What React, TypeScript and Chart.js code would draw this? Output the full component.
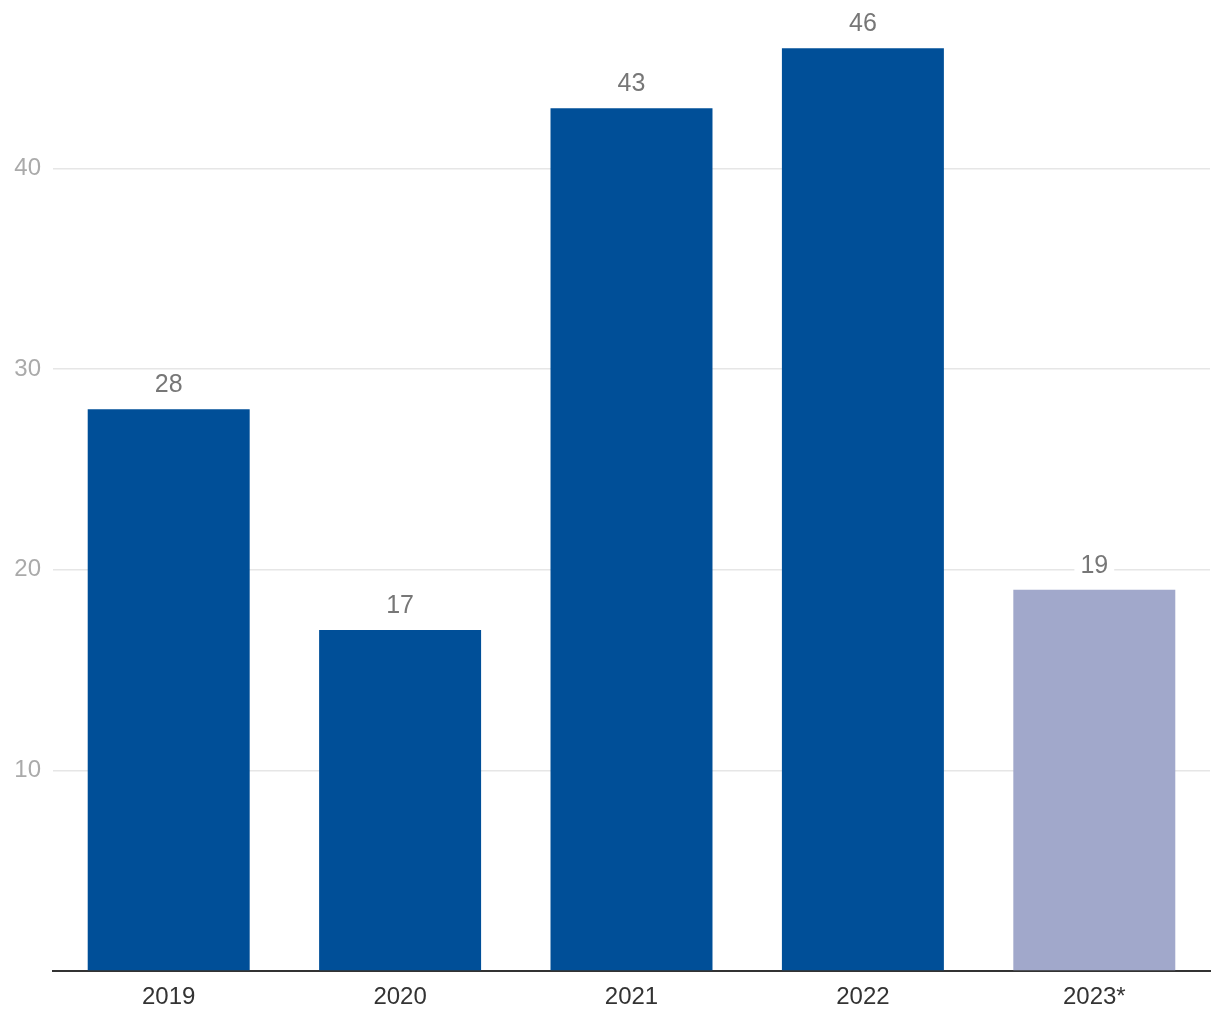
import React, { useEffect, useRef } from "react";
import { Chart, registerables } from "chart.js";

Chart.register(...registerables);

const categories = ["2019", "2020", "2021", "2022", "2023*"];
const values = [28, 17, 43, 46, 19];
const barColors = ["#004F98", "#004F98", "#004F98", "#004F98", "#A1A8CB"];
const yTicks = [10, 20, 30, 40];

const FONT = "'Liberation Sans', Arial, sans-serif";

const valueLabels = {
  id: "valueLabels",
  afterDatasetsDraw(chart: any) {
    const ctx = chart.ctx;
    const meta = chart.getDatasetMeta(0);
    ctx.save();
    ctx.font = `25px ${FONT}`;
    ctx.textAlign = "center";
    ctx.textBaseline = "middle";
    meta.data.forEach((bar: any, i: number) => {
      const text = String(values[i]);
      const w = ctx.measureText(text).width;
      const y = bar.y - 25;
      ctx.fillStyle = "#ffffff";
      ctx.fillRect(bar.x - w / 2 - 6, y - 14, w + 12, 28);
      ctx.fillStyle = "#777777";
      ctx.fillText(text, bar.x, y + 1);
    });
    ctx.restore();
  },
};

export default function App() {
  const ref = useRef<HTMLCanvasElement>(null);
  useEffect(() => {
    if (!ref.current) return;
    const chart = new Chart(ref.current, {
      type: "bar",
      data: {
        labels: categories,
        datasets: [
          {
            data: values,
            backgroundColor: barColors,
            barPercentage: 0.7,
            categoryPercentage: 1,
          },
        ],
      },
      options: {
        animation: false,
        responsive: false,
        maintainAspectRatio: false,
        layout: { padding: { top: 8, right: 10, bottom: 0, left: 0 } },
        plugins: { legend: { display: false }, tooltip: { enabled: false } },
        scales: {
          x: {
            grid: { display: false, drawTicks: false },
            border: { display: true, color: "#333333", width: 2 },
            ticks: { color: "#333333", font: { family: FONT, size: 24 }, padding: 12 },
            afterFit(scale: any) {
              scale.height = 49;
              scale.paddingLeft = 0;
              scale.paddingRight = 0;
            },
          },
          y: {
            min: 0,
            max: 48,
            afterBuildTicks(scale: any) {
              scale.ticks = [0, ...yTicks].map((v) => ({ value: v }));
            },
            grid: { color: "#e6e6e6", lineWidth: 1.5, drawTicks: false },
            border: { display: false },
            ticks: {
              color: "#aaaaaa",
              font: { family: FONT, size: 24 },
              padding: 12,
              callback: (v: any) => (v === 0 ? "" : String(v)),
            },
            afterFit(scale: any) {
              scale.width = 53;
              scale.paddingTop = 0;
              scale.paddingBottom = 0;
            },
          },
        },
      },
      plugins: [valueLabels],
    });
    return () => chart.destroy();
  }, []);
  return (
    <div style={{ position: "absolute", left: 0, top: 0, width: 1220, height: 1020 }}>
      <canvas ref={ref} width={1220} height={1020} />
    </div>
  );
}
